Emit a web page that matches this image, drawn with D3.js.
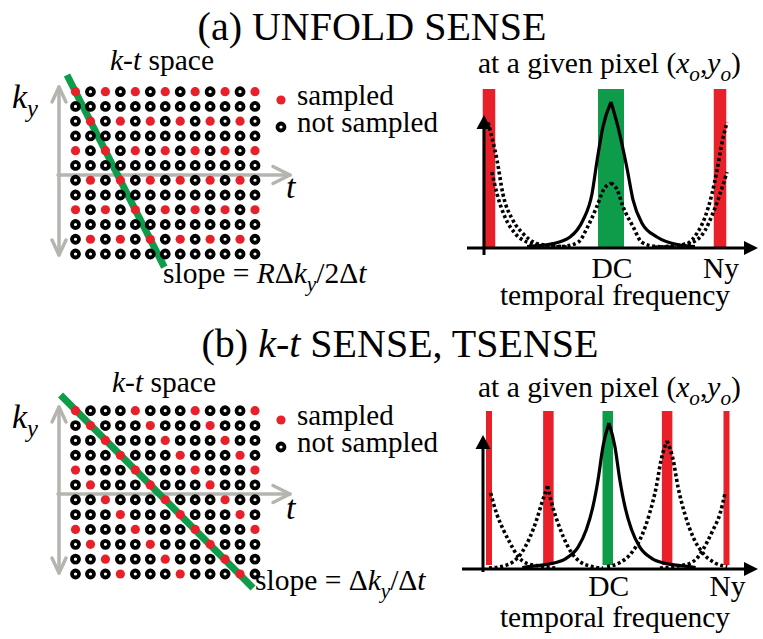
<!DOCTYPE html>
<html><head><meta charset="utf-8">
<script src="https://cdn.jsdelivr.net/npm/d3@7"></script>
<style>
body{margin:0;background:#fff}
svg{display:block}
</style>
</head><body>
<svg id="chart" width="763" height="639"></svg>
<script>
// ---------------- DATA ----------------
const nT = 13, nKy = 12;                 // k-t grid size (time frames x ky lines)
// sampled t-indices for each ky row (top row first)
const sampledA = [[0,2,4,6,8,10,12],[],[1,3,5,7,9,11],[],[0,2,4,6,8,10,12],[],[1,3,5,7,9,11],[],[0,2,4,6,8,10,12],[],[1,3,5,7,9,11],[]];
const sampledB = [[0,4,8,12],[1,5,9],[2,6,10],[3,7,11],[0,4,8,12],[1,5,9],[2,6,10],[3,7,11],[0,4,8,12],[1,5,9],[2,6,10],[3,7,11]];
// sampling-trajectory line endpoints [t, ky-row]
const lineA = [[-0.57,-1.13],[5.94,11.89]];
const lineB = [[-1.0,-1.06],[11.87,11.94]];
// spectral bands (temporal frequency, -0.5..0.5 = Nyquist)
const bandsA = [{f:-0.5,kind:"alias"},{f:0,kind:"dc"},{f:0.5,kind:"alias"}];
const bandsB = [{f:-0.5,kind:"alias"},{f:-0.25,kind:"alias"},{f:0,kind:"dc"},{f:0.25,kind:"alias"},{f:0.5,kind:"alias"}];
// spectra [frequency, amplitude]
const solidA = [[-0.344,0.01],[-0.238,0.03],[-0.168,0.075],[-0.115,0.19],[-0.078,0.37],[-0.057,0.60],[-0.033,0.83],[0,1],
                [0.032,0.83],[0.073,0.55],[0.101,0.33],[0.142,0.17],[0.211,0.075],[0.317,0.02],[0.385,0.01]];
const dotDcA = [[-0.27,0.005],[-0.19,0.012],[-0.134,0.04],[-0.096,0.144],[-0.059,0.28],[-0.03,0.40],[0,0.445],
                [0.028,0.40],[0.056,0.28],[0.102,0.144],[0.141,0.04],[0.2,0.012],[0.3,0.005]];
const dotTallLeftA  = [[-0.504,0.86],[-0.467,0.60],[-0.443,0.37],[-0.402,0.19],[-0.361,0.10],[-0.303,0.03],[-0.238,0.015],[-0.17,0.005]];
const dotShortLeftA = [[-0.488,0.52],[-0.467,0.37],[-0.434,0.21],[-0.393,0.10],[-0.344,0.04],[-0.279,0.015],[-0.2,0.005]];
const dotTallRightA = [[0.2,0.005],[0.284,0.015],[0.349,0.03],[0.394,0.10],[0.431,0.21],[0.463,0.37],[0.486,0.53],[0.509,0.72],[0.532,0.86]];
const dotShortRightA= [[0.25,0.005],[0.303,0.015],[0.376,0.04],[0.431,0.12],[0.468,0.24],[0.5,0.37],[0.532,0.52]];
const solidB = [[-0.36,0.01],[-0.315,0.02],[-0.23,0.039],[-0.175,0.073],[-0.125,0.15],[-0.09,0.27],[-0.062,0.43],[-0.041,0.61],[-0.02,0.84],[0.005,1],
                [0.03,0.84],[0.051,0.61],[0.072,0.43],[0.1,0.27],[0.135,0.15],[0.185,0.073],[0.24,0.039],[0.325,0.02],[0.37,0.01]];
const dotM25B = [[-0.5,0.006],[-0.44,0.02],[-0.398,0.05],[-0.363,0.11],[-0.327,0.22],[-0.299,0.34],[-0.278,0.45],[-0.253,0.568],
                 [-0.236,0.45],[-0.215,0.34],[-0.187,0.22],[-0.152,0.11],[-0.117,0.05],[-0.075,0.02],[-0.02,0.006]];
const dotP25B = [[-0.003,0.016],[0.05,0.043],[0.1,0.11],[0.141,0.22],[0.176,0.38],[0.204,0.56],[0.225,0.75],[0.25,0.877],
                 [0.275,0.75],[0.296,0.56],[0.324,0.38],[0.359,0.22],[0.4,0.11],[0.45,0.043],[0.503,0.016]];
const dotLeftB  = [[-0.493,0.52],[-0.468,0.38],[-0.44,0.27],[-0.412,0.18],[-0.377,0.084],[-0.341,0.039],[-0.285,0.02],[-0.22,0.006]];
const dotRightB = [[0.22,0.006],[0.29,0.02],[0.346,0.039],[0.381,0.084],[0.417,0.18],[0.444,0.27],[0.473,0.38],[0.494,0.52]];
// text
const titleParts = [[["(a) UNFOLD SENSE",""]], [["(b) ",""],["k-t","i"],[" SENSE, TSENSE",""]]];
const kspaceParts = [["k-t","i"],[" space",""]];
const kyParts = [["k","i"],["y","is"]];
const tLabel = "t";
const legendLabels = ["sampled","not sampled"];
const slopeParts = [
  [["slope = ",""],["R","i"],["Δ",""],["k","i"],["y","is"],["/2Δ",""],["t","i"]],
  [["slope = Δ",""],["k","i"],["y","is"],["/Δ",""],["t","i"]]
];
const pixelTitleParts = [["at a given pixel (",""],["x","i"],["o","is"],[",",""],["y","i"],["o","is"],[")",""]];
const freqTickLabels = ["DC","Ny"];
const freqTickValues = [0, 0.5];
const freqAxisLabel = "temporal frequency";

// ---------------- STYLE / LAYOUT ----------------
const RED = "#e8202a", GREEN = "#0e9b4a", GRAY = "#b5b5b0";
const FONT = "'Liberation Serif', Tinos, 'Times New Roman', Times, 'DejaVu Serif', 'Noto Serif', serif";
const svg = d3.select("#chart").attr("font-family", FONT);

function rich(parent, x, y, size, parts, anchor){
  const t = parent.append("text").attr("x",x).attr("y",y).attr("font-size",size)
    .attr("font-family",FONT).attr("text-anchor",anchor||"start");
  let inSub = false;
  parts.forEach(([s,st])=>{
    const sp = t.append("tspan").text(s);
    const isSub = st.includes("s");
    if (st.includes("i")) sp.attr("font-style","italic");
    if (isSub){ sp.attr("font-size", size*0.72); if(!inSub){ sp.attr("dy", size*0.26); inSub=true; } }
    else if (inSub){ sp.attr("dy", -size*0.26); inSub=false; }
  });
  return t;
}
function plain(parent, x, y, size, s, anchor){
  return parent.append("text").attr("x",x).attr("y",y).attr("font-size",size)
    .attr("font-family",FONT).attr("text-anchor",anchor||"start").text(s);
}

const panels = [
  {sampled:sampledA, line:lineA, bands:bandsA,
   solid:[solidA], dotted:[dotDcA,dotTallLeftA,dotShortLeftA,dotTallRightA,dotShortRightA],
   title:{x:372,y:40}, kspace:{x:110,y:70}, gridY:[91.7,254], grayV:[87,255], grayH:175,
   ky:{x:12,y:108}, t:{x:286,y:198}, legY:[100,127], slope:{x:163,y:283},
   fx:{d:[-0.5,0,0.5], r:[489,611,720]}, fy:[248,102], barTop:89, barBot:247,
   axV:{x:484,top:115,bot:255}, axH:{y:248,x0:467,x1:758},
   pix:{x:478,y:73}, tick:{y:278}, flab:{x:615,y:305},
   barW:(d)=> d.kind==="dc"?26:12.5},
  {sampled:sampledB, line:lineB, bands:bandsB,
   solid:[solidB], dotted:[dotM25B,dotP25B,dotLeftB,dotRightB],
   title:{x:400,y:357}, kspace:{x:112,y:392}, gridY:[410.7,574], grayV:[407,573], grayH:494,
   ky:{x:12,y:428}, t:{x:286,y:519}, legY:[420,447], slope:{x:255,y:590},
   fx:{d:[-0.5,0.5], r:[489,726.5]}, fy:[569,423], barTop:411, barBot:565,
   axV:{x:483,top:435,bot:572}, axH:{y:569,x0:462,x1:758},
   pix:{x:478,y:397}, tick:{y:596}, flab:{x:615,y:627},
   barW:(d)=> Math.abs(d.f)===0.5?6:10.5}
];

panels.forEach((P,pi)=>{
  const g = svg.append("g");
  rich(g, P.title.x, P.title.y, 40, titleParts[pi], "middle");

  // ---------- k-t space ----------
  const xt = d3.scaleLinear().domain([0,nT-1]).range([75.5,255]);
  const yk = d3.scaleLinear().domain([0,nKy-1]).range(P.gridY);
  rich(g, P.kspace.x, P.kspace.y, 29.5, kspaceParts);

  const gg = g.append("g").attr("stroke",GRAY).attr("stroke-width",3.5).attr("fill","none")
     .attr("stroke-linecap","round").attr("stroke-linejoin","round");
  const vx = 59;
  gg.append("line").attr("x1",vx).attr("x2",vx).attr("y1",P.grayV[0]).attr("y2",P.grayV[1]);
  gg.append("path").attr("d",`M${vx-7},${P.grayV[0]+15}L${vx},${P.grayV[0]}L${vx+7},${P.grayV[0]+15}`);
  gg.append("path").attr("d",`M${vx-7},${P.grayV[1]-15}L${vx},${P.grayV[1]}L${vx+7},${P.grayV[1]-15}`);
  gg.append("line").attr("x1",58).attr("x2",290).attr("y1",P.grayH).attr("y2",P.grayH);
  gg.append("path").attr("d",`M${273},${P.grayH-8.5}L290,${P.grayH}L${273},${P.grayH+8.5}`);

  g.append("line")
    .attr("x1",xt(P.line[0][0])).attr("y1",yk(P.line[0][1]))
    .attr("x2",xt(P.line[1][0])).attr("y2",yk(P.line[1][1]))
    .attr("stroke",GREEN).attr("stroke-width",7);

  const pts = [];
  for (let r=0;r<nKy;r++) for (let c=0;c<nT;c++) pts.push({r,c,s:P.sampled[r].includes(c)});
  g.selectAll("circle.ns").data(pts.filter(d=>!d.s)).join("circle")
    .attr("cx",d=>xt(d.c)).attr("cy",d=>yk(d.r)).attr("r",3.5)
    .attr("fill","#fff").attr("stroke","#000").attr("stroke-width",3.8);
  g.selectAll("circle.s").data(pts.filter(d=>d.s)).join("circle")
    .attr("cx",d=>xt(d.c)).attr("cy",d=>yk(d.r)).attr("r",4.6).attr("fill",RED);

  rich(g, P.ky.x, P.ky.y, 34, kyParts);
  g.append("text").attr("x",P.t.x).attr("y",P.t.y).attr("font-size",34).attr("font-family",FONT)
    .attr("font-style","italic").text(tLabel);

  g.append("circle").attr("cx",281).attr("cy",P.legY[0]).attr("r",4.6).attr("fill",RED);
  g.append("circle").attr("cx",281).attr("cy",P.legY[1]).attr("r",3.5).attr("fill","#fff").attr("stroke","#000").attr("stroke-width",3.8);
  legendLabels.forEach((s,i)=> plain(g, 297, P.legY[i]+5, 29, s));
  rich(g, P.slope.x, P.slope.y, 29.5, slopeParts[pi]);

  // ---------- spectrum ----------
  const fx = d3.scaleLinear().domain(P.fx.d).range(P.fx.r);
  const ay = d3.scaleLinear().domain([0,1]).range(P.fy);
  rich(g, P.pix.x, P.pix.y, 29.5, pixelTitleParts);

  g.selectAll("rect.band").data(P.bands).join("rect")
    .attr("x",d=>fx(d.f)-P.barW(d)/2).attr("width",d=>P.barW(d))
    .attr("y",P.barTop).attr("height",P.barBot-P.barTop)
    .attr("fill",d=>d.kind==="dc"?GREEN:RED);

  const line = d3.line().x(d=>fx(d[0])).y(d=>ay(d[1])).curve(d3.curveMonotoneX);
  function halves(arr){
    const mi = d3.maxIndex(arr, d=>d[1]);
    const out = [];
    if (mi>0) out.push(arr.slice(0,mi+1));
    if (mi<arr.length-1) out.push(arr.slice(mi));
    return out;
  }
  P.dotted.forEach(c=>halves(c).forEach(h=>{
    g.append("path").attr("d",line(h)).attr("fill","none").attr("stroke","#000")
     .attr("stroke-width",3.6).attr("stroke-dasharray","3 2.6");
  }));
  P.solid.forEach(c=>halves(c).forEach(h=>{
    g.append("path").attr("d",line(h)).attr("fill","none").attr("stroke","#000")
     .attr("stroke-width",3.2).attr("stroke-linejoin","round");
  }));

  const ax = g.append("g");
  ax.append("line").attr("x1",P.axV.x).attr("x2",P.axV.x).attr("y1",P.axV.top+10).attr("y2",P.axV.bot)
    .attr("stroke","#000").attr("stroke-width",3);
  ax.append("path").attr("d",`M${P.axV.x},${P.axV.top}L${P.axV.x+7.5},${P.axV.top+14}L${P.axV.x-7.5},${P.axV.top+14}Z`).attr("fill","#000");
  ax.append("line").attr("x1",P.axH.x0).attr("x2",P.axH.x1-10).attr("y1",P.axH.y).attr("y2",P.axH.y)
    .attr("stroke","#000").attr("stroke-width",3);
  ax.append("path").attr("d",`M${P.axH.x1},${P.axH.y}L${P.axH.x1-14},${P.axH.y-7}L${P.axH.x1-14},${P.axH.y+7}Z`).attr("fill","#000");

  freqTickLabels.forEach((s,i)=> plain(g, fx(freqTickValues[i])+1, P.tick.y, 29.5, s, "middle"));
  plain(g, P.flab.x, P.flab.y, 29.5, freqAxisLabel, "middle");
});
</script>
</body></html>
